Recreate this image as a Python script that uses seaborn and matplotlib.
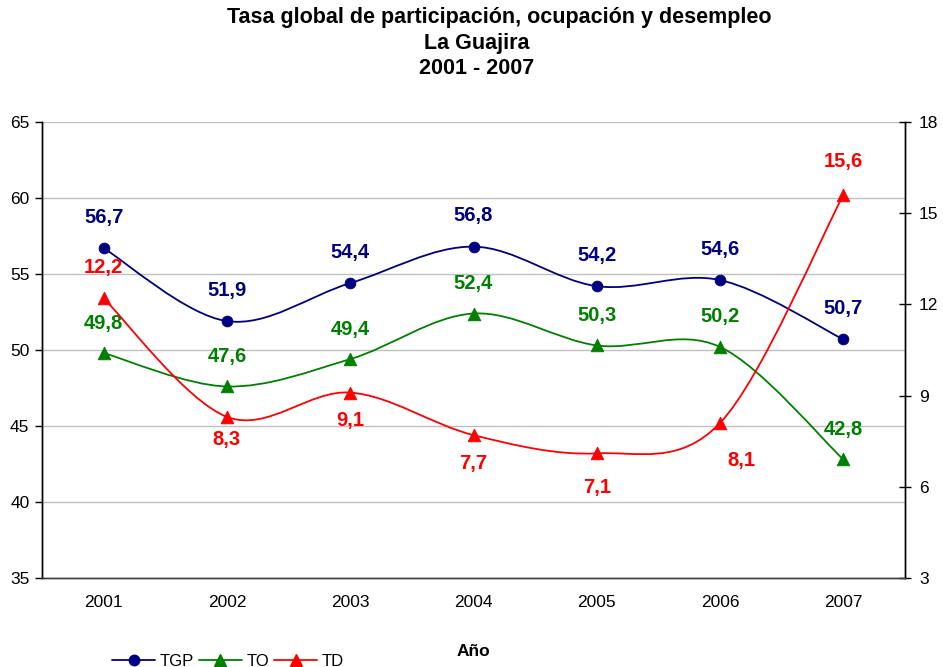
import numpy as np
import pandas as pd
import matplotlib
matplotlib.use('Agg')
import matplotlib.pyplot as plt
import seaborn as sns
from matplotlib.path import Path
from matplotlib.patches import PathPatch
from matplotlib.lines import Line2D

# Data
years = ['2001', '2002', '2003', '2004', '2005', '2006', '2007']
tgp = [56.7, 51.9, 54.4, 56.8, 54.2, 54.6, 50.7]
to = [49.8, 47.6, 49.4, 52.4, 50.3, 50.2, 42.8]
td = [12.2, 8.3, 9.1, 7.7, 7.1, 8.1, 15.6]

NAVY = '#000080'
GREEN = '#008000'
RED = '#FF0000'

sns.set_theme(style='white')
plt.rcParams['font.family'] = ['Liberation Sans', 'DejaVu Sans']
plt.rcParams['text.color'] = 'black'

pos = np.arange(len(years))
df = pd.DataFrame({'pos': pos, 'TGP': tgp, 'TO': to, 'TD': td})


def smooth_path(xs, ys):
    # Excel-style smoothed line: cubic bezier through the data points
    pts = np.column_stack([xs, ys]).astype(float)
    n = len(pts)
    verts = [pts[0]]
    codes = [Path.MOVETO]
    for i in range(n - 1):
        p0 = pts[i - 1] if i > 0 else pts[i]
        p1 = pts[i]
        p2 = pts[i + 1]
        p3 = pts[i + 2] if i + 2 < n else pts[i + 1]
        c1 = p1 + (p2 - p0) / 6
        c2 = p2 - (p3 - p1) / 6
        verts += [c1, c2, p2]
        codes += [Path.CURVE4] * 3
    return Path(verts, codes)


fig = plt.figure(figsize=(9.43, 6.67), dpi=100)
ax = fig.add_axes([42 / 943, 1 - 578 / 667, (905 - 42) / 943, (578 - 122) / 667])
ax2 = ax.twinx()

# lines
ax.add_patch(PathPatch(smooth_path(pos, tgp), fill=False, edgecolor=NAVY, lw=1.3, zorder=3))
ax.add_patch(PathPatch(smooth_path(pos, to), fill=False, edgecolor=GREEN, lw=1.3, zorder=3))
ax2.add_patch(PathPatch(smooth_path(pos, td), fill=False, edgecolor=RED, lw=1.3, zorder=3))

# markers
sns.scatterplot(data=df, x='pos', y='TGP', ax=ax, marker='o', s=60, color=NAVY,
                edgecolor=NAVY, zorder=4, legend=False)
sns.scatterplot(data=df, x='pos', y='TO', ax=ax, marker='^', s=80, color=GREEN,
                edgecolor=GREEN, zorder=4, legend=False)
sns.scatterplot(data=df, x='pos', y='TD', ax=ax2, marker='^', s=80, color=RED,
                edgecolor=RED, zorder=4, legend=False)

# data labels
lab_kw = dict(textcoords='offset pixels', ha='center', va='center',
              fontsize=14.5, fontweight='bold')
for x, v in zip(pos, tgp):
    ax.annotate(f'{v:.1f}'.replace('.', ','), (x, v), xytext=(0, 31), color=NAVY, **lab_kw)
for x, v in zip(pos, to):
    ax.annotate(f'{v:.1f}'.replace('.', ','), (x, v), xytext=(0, 30), color=GREEN, **lab_kw)
td_off = [(0, 31), (0, -23), (0, -28), (0, -28), (0, -34), (21, -38), (0, 33)]
for x, v, off in zip(pos, td, td_off):
    ax2.annotate(f'{v:.1f}'.replace('.', ','), (x, v), xytext=off, color=RED, **lab_kw)

# axes
ax.set_xlim(-0.5, 6.5)
ax.set_ylim(35, 65)
ax.set_yticks(range(35, 66, 5))
ax2.set_ylim(3, 18)
ax2.set_yticks(range(3, 19, 3))
ax.set_xticks(pos)
ax.set_xticklabels(years)
ax.set_xticks(np.arange(-0.5, 6.6, 1), minor=True)
ax.set_xlabel('')
ax.set_ylabel('')
ax2.set_ylabel('')
ax.yaxis.grid(True, color='#C0C0C0', lw=1)
ax.xaxis.grid(False)
ax2.grid(False)

ax.tick_params(axis='x', which='major', length=0, labelsize=12.5, pad=12, labelcolor='black')
ax.tick_params(axis='x', which='minor', length=5, width=1, color='#404040', direction='out')
ax.tick_params(axis='y', length=5, width=1, direction='out', labelsize=12.5, pad=4,
               color='black', labelcolor='black')
ax2.tick_params(axis='y', length=8, width=1, direction='inout', labelsize=12.5, pad=6,
                color='black', labelcolor='black')

for a in (ax, ax2):
    a.spines['top'].set_visible(False)
    a.spines['left'].set_color('black')
    a.spines['right'].set_color('black')
    a.spines['bottom'].set_color('#404040')
    for s in a.spines.values():
        s.set_linewidth(1)

# titles
title_kw = dict(ha='center', va='center', fontsize=15.5, fontweight='bold', color='black')
fig.text(499 / 943, 1 - 18 / 667, 'Tasa global de participación, ocupación y desempleo', **title_kw)
fig.text(477 / 943, 1 - 43 / 667, 'La Guajira', **title_kw)
fig.text(477 / 943, 1 - 68 / 667, '2001 - 2007', **title_kw)
fig.text(473 / 943, 1 - 652 / 667, 'Año', ha='center', va='center', fontsize=12.5,
         fontweight='bold', color='black')

handles = [
    Line2D([], [], color=NAVY, marker='o', markersize=7.5, lw=1.3),
    Line2D([], [], color=GREEN, marker='^', markersize=8.5, lw=1.3),
    Line2D([], [], color=RED, marker='^', markersize=8.5, lw=1.3),
]
fig.legend(handles, ['TGP', 'TO', 'TD'], loc='center left',
           bbox_to_anchor=(112 / 943, 1 - 661 / 667), ncol=3, frameon=False,
           fontsize=12, handlelength=2.6, handletextpad=0.25, columnspacing=0.3,
           borderpad=0, borderaxespad=0, labelcolor='black')

fig.savefig('out.png', dpi=100)
